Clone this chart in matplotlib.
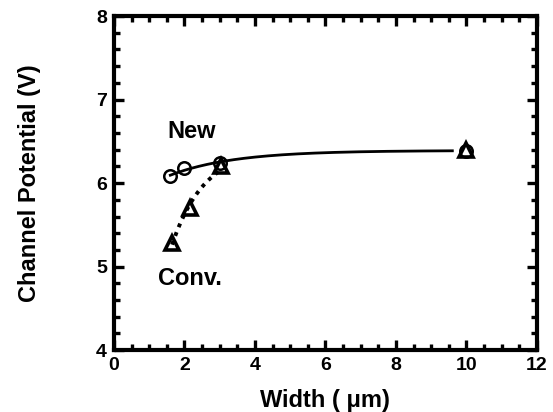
import numpy as np
import matplotlib
matplotlib.use("Agg")
import matplotlib.pyplot as plt
from matplotlib.ticker import MultipleLocator

# %% Data
new_width = [1.6, 2.0, 3.0, 10.0]
new_potential = [6.08, 6.18, 6.24, 6.39]
conv_width = [1.65, 2.15, 3.05, 10.0]
conv_potential = [5.28, 5.70, 6.20, 6.40]

plt.rcParams['font.family'] = ['Liberation Sans', 'DejaVu Sans']
plt.rcParams['font.weight'] = 'bold'


# %% Trend line: saturating exponential fitted to the points
def fit_saturating(x, y):
    x = np.asarray(x)
    y = np.asarray(y)
    best = None
    for k in np.linspace(0.2, 3.0, 281):
        A = np.column_stack([np.ones_like(x), -np.exp(-k * x)])
        coef, res, *_ = np.linalg.lstsq(A, y, rcond=None)
        err = np.sum((A @ coef - y) ** 2)
        if best is None or err < best[0]:
            best = (err, k, coef)
    _, k, (a, b) = best
    return lambda t: a - b * np.exp(-k * t)


f_new = fit_saturating(new_width, new_potential)
f_conv = fit_saturating(conv_width, conv_potential)

fig = plt.figure(figsize=(5.53, 4.12), dpi=100)
ax = fig.add_axes([0.206, 0.150, 0.765, 0.811])

t_new = np.linspace(new_width[0], 9.6, 200)
ax.plot(t_new, f_new(t_new), color='black', lw=2)
t_conv = np.linspace(conv_width[0], conv_width[2], 100)
ax.plot(t_conv, f_conv(t_conv), color='black', lw=2.8, ls=(0, (1.0, 1.4)))

ax.plot(new_width, new_potential, ls='none', marker='o', ms=9,
        mfc='none', mec='black', mew=1.8)
ax.plot(conv_width, conv_potential, ls='none', marker='^', ms=10,
        mfc='none', mec='black', mew=2.6)

ax.text(2.2, 6.62, "New", ha='center', va='center', fontsize=17, fontweight='bold')
ax.text(2.15, 4.86, "Conv.", ha='center', va='center', fontsize=17, fontweight='bold')

ax.set_xlim(0, 12)
ax.set_ylim(4, 8)
ax.xaxis.set_major_locator(MultipleLocator(2))
ax.xaxis.set_minor_locator(MultipleLocator(0.5))
ax.yaxis.set_major_locator(MultipleLocator(1))
ax.yaxis.set_minor_locator(MultipleLocator(0.2))
ax.tick_params(which='both', direction='in', top=True, right=True,
               labelsize=14, width=2.4)
ax.tick_params(which='major', length=7, pad=5)
ax.tick_params(which='minor', length=4)
for lab in ax.get_xticklabels() + ax.get_yticklabels():
    lab.set_fontweight('bold')
for sp in ax.spines.values():
    sp.set_linewidth(3)

ax.set_xlabel("Width ( \u03bcm)", fontsize=17, fontweight='bold')
ax.set_ylabel("Channel Potential (V)", fontsize=17, fontweight='bold')
ax.xaxis.set_label_coords(0.499, -0.150)
ax.yaxis.set_label_coords(-0.199, 0.5)
ax.xaxis.label.set_va('center')
ax.yaxis.label.set_va('center')

fig.savefig("out.png", dpi=100)
